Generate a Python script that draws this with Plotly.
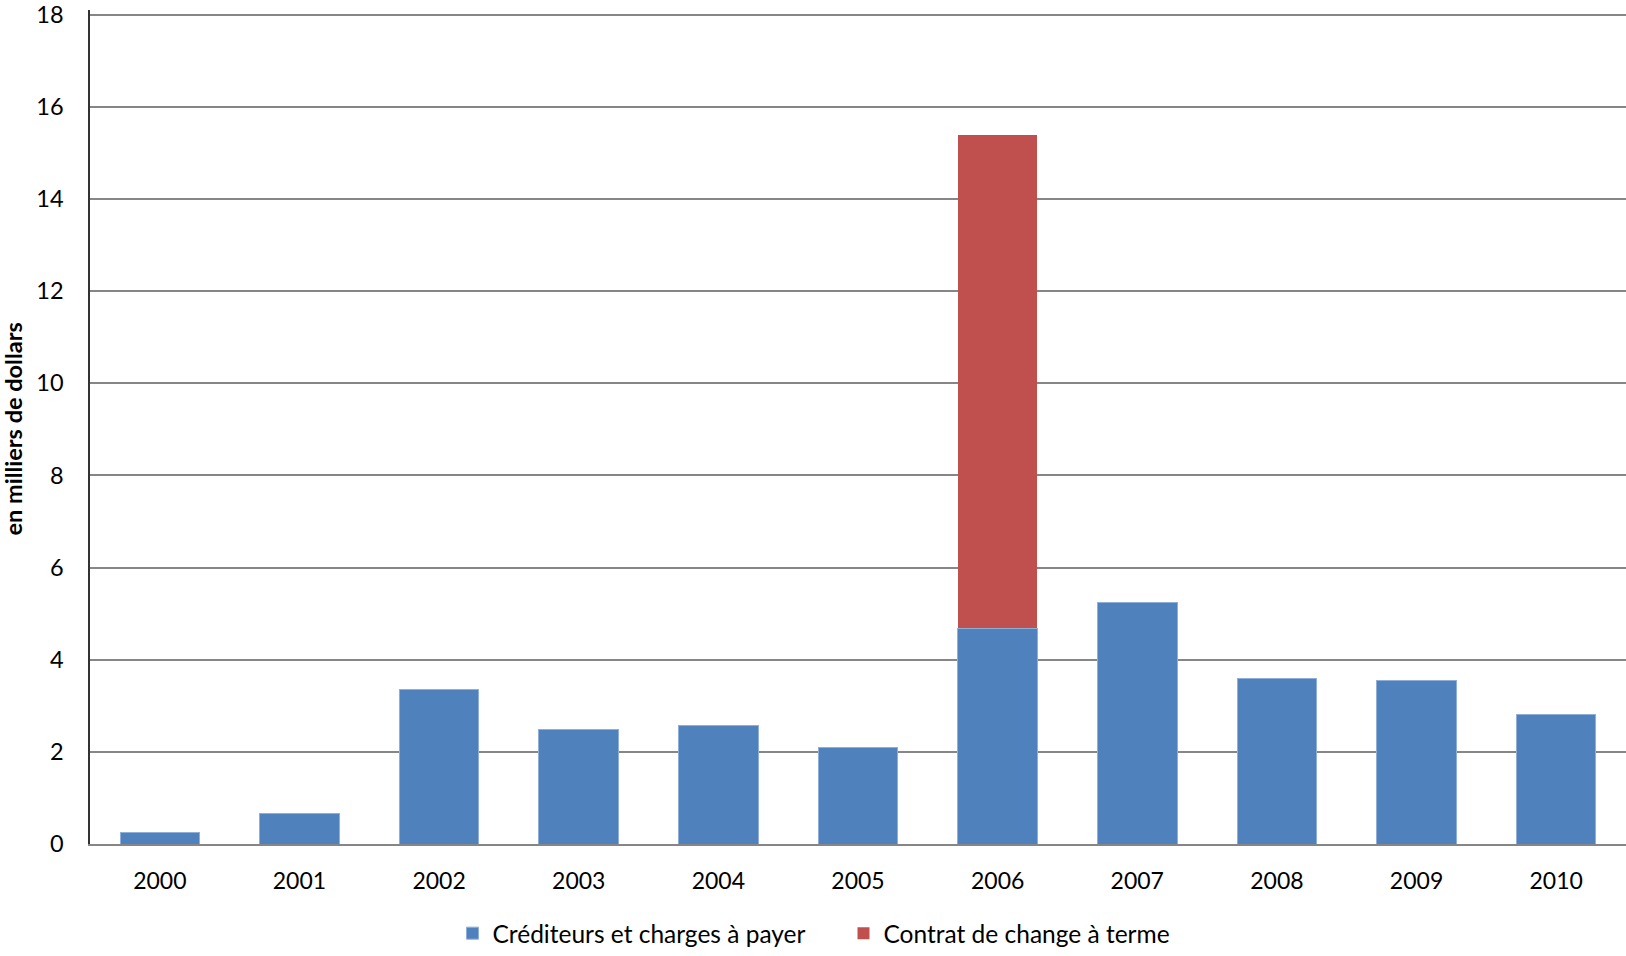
import plotly.graph_objects as go

years = ["2000", "2001", "2002", "2003", "2004", "2005", "2006", "2007", "2008", "2009", "2010"]
crediteurs = [0.24, 0.66, 3.35, 2.48, 2.58, 2.09, 4.68, 5.25, 3.59, 3.55, 2.82]
contrat_change = [0, 0, 0, 0, 0, 0, 10.70, 0, 0, 0, 0]
y_ticks = [0, 2, 4, 6, 8, 10, 12, 14, 16, 18]

FONT = "Lato"

fig = go.Figure()
fig.add_trace(go.Bar(
    x=years, y=crediteurs, name="Créditeurs et charges à payer",
    marker=dict(color="#4F81BD", line=dict(color="#8FAFD8", width=1)),
))
fig.add_trace(go.Bar(
    x=years, y=contrat_change, name="Contrat de change à terme",
    marker=dict(color="#C0504D", line=dict(width=0)),
))

fig.update_layout(
    width=1626, height=956,
    barmode="stack", bargap=0.43,
    plot_bgcolor="white", paper_bgcolor="white",
    margin=dict(l=90, r=0, t=8, b=109),
    font=dict(family=FONT, size=23, color="black"),
    showlegend=True,
    legend=dict(
        orientation="h", x=0.236, xanchor="left", y=-0.107, yanchor="middle",
        font=dict(family=FONT, size=24.5), entrywidth=346, traceorder="normal",
    ),
)
fig.update_yaxes(
    range=[0, 18.1], tickvals=y_ticks, showgrid=True, gridcolor="#868686", gridwidth=1.5,
    showline=True, linecolor="#333333", linewidth=1.5, zeroline=False,
    ticks="", ticklabelstandoff=20, tickfont=dict(size=23.5),
    ticklabeloverflow="allow",
)
fig.update_xaxes(
    showline=True, linecolor="#868686", linewidth=1.5, ticks="", ticklabelstandoff=16,
)
fig.add_annotation(
    text="<b>en milliers de dollars</b>", xref="paper", yref="paper",
    x=0, y=0.497, xshift=-77, xanchor="center", textangle=-90, showarrow=False,
    font=dict(family=FONT, size=23.5),
)

fig.write_html("out.html")
